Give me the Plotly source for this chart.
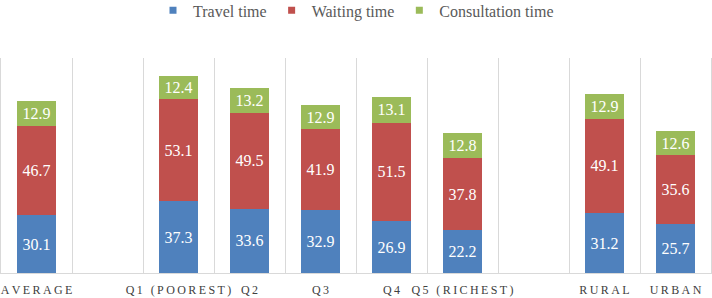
import plotly.graph_objects as go

categories = ["AVERAGE", " ", "Q1 (POOREST)", "Q2", "Q3", "Q4", "Q5 (RICHEST)", "  ", "RURAL", "URBAN"]
travel = [30.1, None, 37.3, 33.6, 32.9, 26.9, 22.2, None, 31.2, 25.7]
waiting = [46.7, None, 53.1, 49.5, 41.9, 51.5, 37.8, None, 49.1, 35.6]
consultation = [12.9, None, 12.4, 13.2, 12.9, 13.1, 12.8, None, 12.9, 12.6]

series = [("Travel time", travel, "#4F81BD"),
          ("Waiting time", waiting, "#C0504D"),
          ("Consultation time", consultation, "#9BBB59")]

SERIF = "Liberation Serif, DejaVu Serif, serif"
SP = "\u2009"
def spaced(s):
    return SP.join(list(s)) if s.strip() else s

ticktext = [spaced(c) for c in categories]

fig = go.Figure()
for name, vals, color in series:
    fig.add_trace(go.Bar(
        name=name, x=categories, y=vals, showlegend=False,
        marker=dict(color=color, line=dict(width=0)),
        text=[("%.1f" % v) if v is not None else "" for v in vals],
        textposition="inside", insidetextanchor="middle", textangle=0,
        textfont=dict(color="white", size=16, family=SERIF),
        hoverinfo="skip",
    ))
# legend entries with small square swatches
for name, vals, color in series:
    fig.add_trace(go.Scatter(
        name=name, x=[None], y=[None], mode="markers",
        marker=dict(symbol="square", size=7, color=color), showlegend=True,
    ))

fig.update_layout(
    width=712, height=298,
    barmode="stack", bargap=0.45,
    margin=dict(l=1, r=1, t=58, b=25, autoexpand=False),
    plot_bgcolor="white", paper_bgcolor="white",
    font=dict(family=SERIF, color="#595959"),
    uniformtext=dict(minsize=16, mode="show"),
    legend=dict(orientation="h", xanchor="center", x=0.5, yref="container", y=0.965,
                yanchor="middle", font=dict(size=16, color="#595959", family=SERIF),
                itemwidth=30, traceorder="normal"),
    showlegend=True,
)
fig.update_xaxes(type="category", tickson="boundaries", showgrid=True, gridcolor="#D9D9D9",
                 gridwidth=1, showline=True, linecolor="#D9D9D9", linewidth=1,
                 ticks="", tickvals=categories, ticktext=ticktext, automargin=False,
                 range=[-0.5, len(categories) - 0.5], ticklabelstandoff=6,
                 tickfont=dict(size=12, color="#404040", family=SERIF), tickangle=0)
fig.update_yaxes(range=[0, 112], showgrid=False, showticklabels=False, zeroline=False,
                 showline=True, mirror=True, linecolor="#D9D9D9", linewidth=1,
                 automargin=False)

fig.write_html("out.html", config={"displayModeBar": False},
               post_script="document.body.style.margin='0';document.body.style.overflow='hidden';")
